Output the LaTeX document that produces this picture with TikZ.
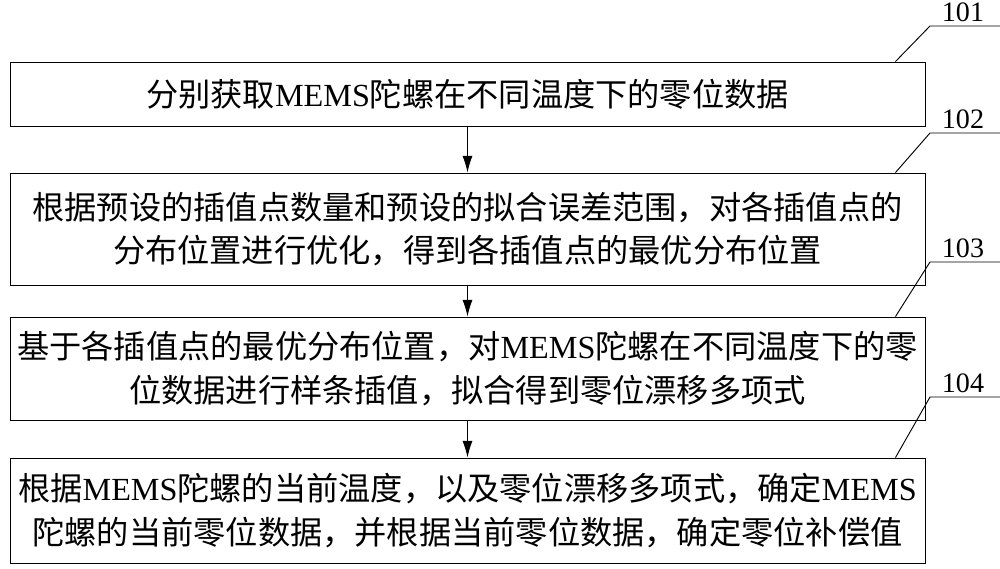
\documentclass[tikz,border=0pt]{standalone}
\usepackage{fontspec}
\setmainfont{Liberation Serif}
\newfontfamily\cjk{Noto Sans CJK SC}
\usetikzlibrary{positioning,arrows.meta}
\tikzset{
  stepbox/.style={draw, thick, minimum width=27.45cm, inner sep=0pt, align=center,
    font=\cjk\fontsize{27.5}{37}\selectfont},
  tag/.style={font=\fontsize{24}{28}\selectfont, anchor=south},
  flow/.style={thick, -{Latex[length=0.5cm, width=0.3cm]}},
}
\newcommand{\ms}{{\rmfamily MEMS}}
\begin{document}
\begin{tikzpicture}[x=0.03cm, y=-0.03cm]
		\useasboundingbox (0,0) rectangle (1000,569);
		\node[stepbox, minimum height=1.92cm] (s1) at (467.5,94) {分别获取\ms 陀螺在不同温度下的零位数据};
		\node[stepbox, minimum height=3.36cm] (s2) at (467.5,229) {根据预设的插值点数量和预设的拟合误差范围，对各插值点的\\分布位置进行优化，得到各插值点的最优分布位置};
		\node[stepbox, minimum height=3.09cm] (s3) at (467.5,368.5) {基于各插值点的最优分布位置，对\ms 陀螺在不同温度下的零\\位数据进行样条插值，拟合得到零位漂移多项式};
		\node[stepbox, minimum height=3.15cm] (s4) at (467.5,510.5) {根据\ms 陀螺的当前温度，以及零位漂移多项式，确定\ms\\陀螺的当前零位数据，并根据当前零位数据，确定零位补偿值};
		\draw[flow] (s1) -- (s2);
		\draw[flow] (s2) -- (s3);
		\draw[flow] (s3) -- (s4);
		% leader lines
		\foreach \n/\b/\y in {101/s1/26,102/s2/133,103/s3/262,104/s4/397}{
			\coordinate (k\n) at (930,\y);
			\draw[thick] (\b.north east) ++(-30,0) -- (k\n) -- ++(70,0);
			\node[tag] (t\n) at (963,\y) {\n};
		}
\end{tikzpicture}
\end{document}
